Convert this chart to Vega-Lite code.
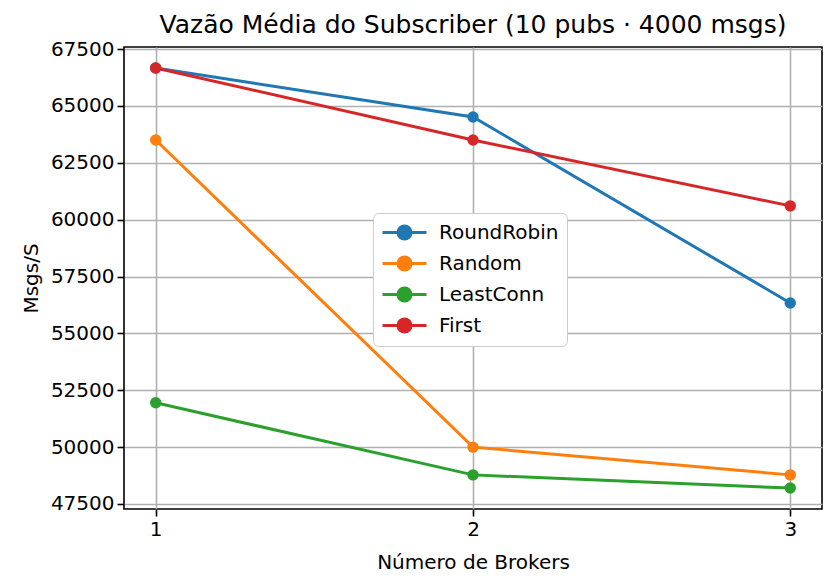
{
  "$schema": "https://vega.github.io/schema/vega-lite/v6.json",
  "width": 698,
  "height": 462,
  "autosize": {"type": "none"},
  "padding": {"left": 124, "top": 47, "right": 14, "bottom": 78},
  "background": "white",
  "title": {"text": "Vazão Média do Subscriber (10 pubs · 4000 msgs)", "font": "DejaVu Sans", "fontSize": 25, "fontWeight": "normal", "color": "black", "offset": 1},
  "config": {
    "font": "DejaVu Sans",
    "view": {"stroke": "black", "strokeWidth": 1.6},
    "axis": {
      "labelFont": "DejaVu Sans", "labelFontSize": 20, "labelColor": "black",
      "titleFont": "DejaVu Sans", "titleFontSize": 20, "titleFontWeight": "normal", "titleColor": "black",
      "gridColor": "#b0b0b0", "gridWidth": 1.6, "gridOpacity": 1,
      "tickColor": "black", "tickSize": 7, "tickWidth": 1.6,
      "domain": false, "labelPadding": 3
    }
  },
  "data": {"values": [
    {"brokers": 1, "value": 66667, "strategy": "RoundRobin"},
    {"brokers": 2, "value": 64516, "strategy": "RoundRobin"},
    {"brokers": 3, "value": 56338, "strategy": "RoundRobin"},
    {"brokers": 1, "value": 63500, "strategy": "Random"},
    {"brokers": 2, "value": 50000, "strategy": "Random"},
    {"brokers": 3, "value": 48780, "strategy": "Random"},
    {"brokers": 1, "value": 51948, "strategy": "LeastConn"},
    {"brokers": 2, "value": 48780, "strategy": "LeastConn"},
    {"brokers": 3, "value": 48200, "strategy": "LeastConn"},
    {"brokers": 1, "value": 66667, "strategy": "First"},
    {"brokers": 2, "value": 63500, "strategy": "First"},
    {"brokers": 3, "value": 60606, "strategy": "First"}
  ]},
  "mark": {"type": "line", "strokeWidth": 3, "point": {"filled": true, "size": 130, "opacity": 1}},
  "encoding": {
    "x": {"field": "brokers", "type": "quantitative", "title": "Número de Brokers",
      "scale": {"domain": [0.9, 3.1], "nice": false, "zero": false},
      "axis": {"values": [1, 2, 3], "format": "d", "titlePadding": 13}},
    "y": {"field": "value", "type": "quantitative", "title": "Msgs/S",
      "scale": {"domain": [47280, 67590], "nice": false, "zero": false},
      "axis": {"values": [47500, 50000, 52500, 55000, 57500, 60000, 62500, 65000, 67500], "format": "d", "titlePadding": 9}},
    "color": {"field": "strategy", "type": "nominal",
      "scale": {"domain": ["RoundRobin", "Random", "LeastConn", "First"], "range": ["#1f77b4", "#ff7f0e", "#2ca02c", "#d62728"]},
      "legend": {
        "title": null, "orient": "none", "legendX": 249, "legendY": 166,
        "fillColor": "white", "strokeColor": "#cccccc", "cornerRadius": 5, "padding": 8,
        "labelFont": "DejaVu Sans", "labelFontSize": 20, "labelColor": "black", "labelOffset": 23,
        "symbolType": "M-2.2,0L2.2,0M0.65,0A0.65,0.65 0 1,1 -0.65,0A0.65,0.65 0 1,1 0.65,0Z",
        "symbolSize": 400, "symbolStrokeWidth": 3, "symbolOffset": 12, "rowPadding": 6
      }}
  }
}
